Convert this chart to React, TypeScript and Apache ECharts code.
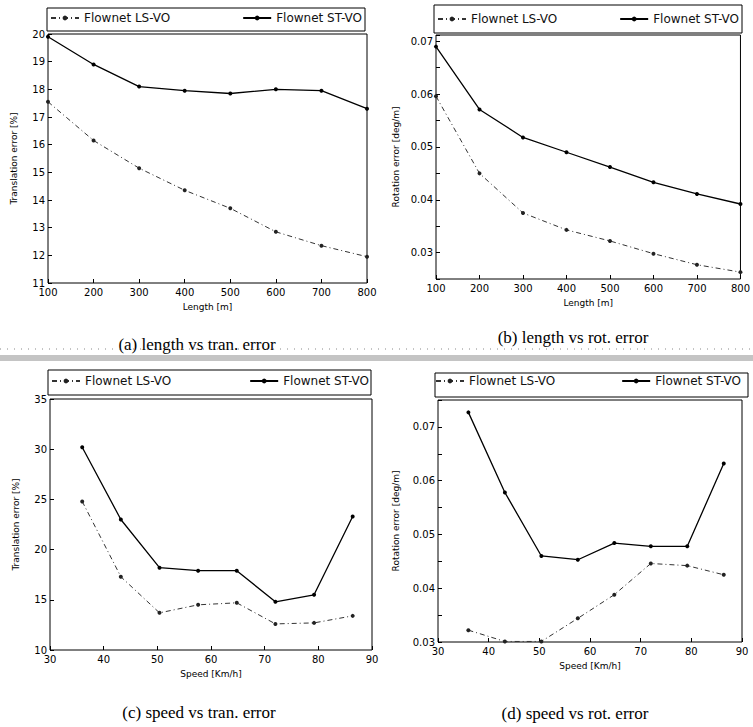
import React, { useEffect, useRef } from "react";
import * as echarts from "echarts";

const lengths = [100, 200, 300, 400, 500, 600, 700, 800];
const speeds = [36, 43.2, 50.4, 57.6, 64.8, 72, 79.2, 86.4];

const lsTranLength = [17.55, 16.15, 15.15, 14.35, 13.7, 12.85, 12.35, 11.95];
const stTranLength = [19.9, 18.9, 18.1, 17.95, 17.85, 18.0, 17.95, 17.3];
const lsRotLength = [0.0596, 0.045, 0.0375, 0.0343, 0.0322, 0.0298, 0.0277, 0.0263];
const stRotLength = [0.069, 0.0571, 0.0518, 0.049, 0.0462, 0.0433, 0.0411, 0.0392];
const lsTranSpeed = [24.8, 17.3, 13.7, 14.5, 14.7, 12.6, 12.7, 13.4];
const stTranSpeed = [30.2, 23.0, 18.2, 17.9, 17.9, 14.8, 15.5, 23.3];
const lsRotSpeed = [0.0322, 0.0301, 0.0301, 0.0344, 0.0388, 0.0446, 0.0442, 0.0425];
const stRotSpeed = [0.0727, 0.0578, 0.046, 0.0453, 0.0484, 0.0478, 0.0478, 0.0632];

const LS = "Flownet LS-VO";
const ST = "Flownet ST-VO";
const captions = [
  "(a) length vs tran. error",
  "(b) length vs rot. error",
  "(c) speed vs tran. error",
  "(d) speed vs rot. error",
];

const SANS = "DejaVu Sans";
const SERIF = "Liberation Serif";

export default function App() {
  const ref = useRef<HTMLDivElement>(null);
  useEffect(() => {
    if (!ref.current) return;
    const chart = echarts.init(ref.current, undefined, { renderer: "svg" });

    const grids = [
      { left: 48, top: 34, width: 319, height: 249 },
      { left: 436, top: 35, width: 308, height: 244 },
      { left: 50, top: 399, width: 322, height: 251 },
      { left: 438, top: 400, width: 304, height: 242 },
    ];

    const pair = (xs: number[], ys: number[]) => xs.map((x, i) => [x, ys[i]]);

    const tickLabel = { fontSize: 10, fontFamily: SANS, color: "#000", margin: 4 };
    const nameStyle = { fontSize: 9, fontFamily: SANS, color: "#000" };
    const tick = { show: true, inside: true, length: 4, lineStyle: { color: "#000" } };

    const hundredths = (v: number) =>
      Math.abs(Math.round(v * 100) - v * 100) < 1e-6 ? v.toFixed(2) : "";

    const xAxes = [
      { min: 100, max: 800, interval: 100, name: "Length [m]" },
      { min: 100, max: 800, interval: 100, name: "Length [m]" },
      { min: 30, max: 90, interval: 10, name: "Speed [Km/h]" },
      { min: 30, max: 90, interval: 10, name: "Speed [Km/h]" },
    ].map((a, i) => ({
      type: "value",
      gridIndex: i,
      min: a.min,
      max: a.max,
      interval: a.interval,
      name: a.name,
      nameLocation: "middle",
      nameGap: 19,
      nameTextStyle: nameStyle,
      axisLine: { show: false },
      axisTick: tick,
      splitLine: { show: false },
      axisLabel: tickLabel,
    }));

    const yAxes = [
      { min: 11, max: 20, interval: 1, name: "Translation error [%]", gap: 30, fmt: undefined },
      { min: 0.025, max: 0.0712, interval: 0.005, name: "Rotation error [deg/m]", gap: 36, fmt: hundredths },
      { min: 10, max: 35, interval: 5, name: "Translation error [%]", gap: 30, fmt: undefined },
      { min: 0.03, max: 0.075, interval: 0.005, name: "Rotation error [deg/m]", gap: 38, fmt: hundredths },
    ].map((a, i) => ({
      type: "value",
      gridIndex: i,
      min: a.min,
      max: a.max,
      interval: a.interval,
      name: a.name,
      nameLocation: "middle",
      nameGap: a.gap,
      nameTextStyle: nameStyle,
      axisLine: { show: false },
      axisTick: tick,
      splitLine: { show: false },
      axisLabel: { ...tickLabel, margin: 3, formatter: a.fmt },
    }));

    const lsStyle = (i: number, xs: number[], ys: number[]) => ({
      type: "line",
      name: LS,
      xAxisIndex: i,
      yAxisIndex: i,
      data: pair(xs, ys),
      symbol: "circle",
      symbolSize: 4,
      itemStyle: { color: "#222" },
      lineStyle: { color: "#333", width: 1, type: [5, 3, 1, 3] },
    });
    const stStyle = (i: number, xs: number[], ys: number[]) => ({
      type: "line",
      name: ST,
      xAxisIndex: i,
      yAxisIndex: i,
      data: pair(xs, ys),
      symbol: "circle",
      symbolSize: 4,
      itemStyle: { color: "#000" },
      lineStyle: { color: "#000", width: 1.3, type: "solid" },
    });

    const series = [
      lsStyle(0, lengths, lsTranLength),
      stStyle(0, lengths, stTranLength),
      lsStyle(1, lengths, lsRotLength),
      stStyle(1, lengths, stRotLength),
      lsStyle(2, speeds, lsTranSpeed),
      stStyle(2, speeds, stTranSpeed),
      lsStyle(3, speeds, lsRotSpeed),
      stStyle(3, speeds, stRotSpeed),
    ];

    const legendText = { fontSize: 12, fontFamily: SANS, color: "#111" };
    const mkLegend = (name: string, pos: any) => ({
      data: [name],
      ...pos,
      padding: 0,
      itemWidth: 28,
      itemHeight: 6,
      selectedMode: false,
      textStyle: legendText,
    });
    const legends = [
      mkLegend(LS, { left: 50, top: 12 }),
      mkLegend(ST, { right: 391, top: 12 }),
      mkLegend(LS, { left: 437, top: 13 }),
      mkLegend(ST, { right: 14, top: 13 }),
      mkLegend(LS, { left: 51, top: 375 }),
      mkLegend(ST, { right: 384, top: 375 }),
      mkLegend(LS, { left: 435, top: 375 }),
      mkLegend(ST, { right: 12, top: 375 }),
    ];

    const boxes = [
      { x: 47, y: 8, width: 318, height: 23 },
      { x: 434, y: 5, width: 308, height: 28 },
      { x: 48, y: 370, width: 323, height: 25 },
      { x: 435, y: 373, width: 313, height: 24 },
    ];
    const capPos = [
      { x: 197, y: 344 },
      { x: 573, y: 337 },
      { x: 199, y: 712 },
      { x: 575, y: 713 },
    ];

    const graphics: any[] = [
      ...boxes.map((b) => ({
        type: "rect",
        shape: b,
        style: { fill: "none", stroke: "#000", lineWidth: 1 },
        silent: true,
      })),
      ...captions.map((c, i) => ({
        type: "text",
        x: capPos[i].x,
        y: capPos[i].y,
        style: {
          text: c,
          font: `17px "${SERIF}"`,
          fill: "#000",
          textAlign: "center",
          textVerticalAlign: "middle",
        },
        silent: true,
      })),
      {
        type: "line",
        shape: { x1: 0, y1: 349, x2: 753, y2: 349 },
        style: { stroke: "#888", lineWidth: 1, lineDash: [1, 6] },
        silent: true,
      },
      {
        type: "rect",
        shape: { x: 0, y: 355, width: 753, height: 6 },
        style: { fill: "#c4c4c4" },
        silent: true,
      },
    ];

    chart.setOption({
      animation: false,
      backgroundColor: "#fff",
      grid: grids.map((g) => ({
        ...g,
        show: true,
        borderColor: "#000",
        borderWidth: 1,
        backgroundColor: "transparent",
      })),
      xAxis: xAxes,
      yAxis: yAxes,
      legend: legends,
      series,
      graphic: graphics,
    } as any);

    return () => chart.dispose();
  }, []);

  return (
    <div
      ref={ref}
      style={{ position: "fixed", left: 0, top: 0, width: 753, height: 727 }}
    />
  );
}
